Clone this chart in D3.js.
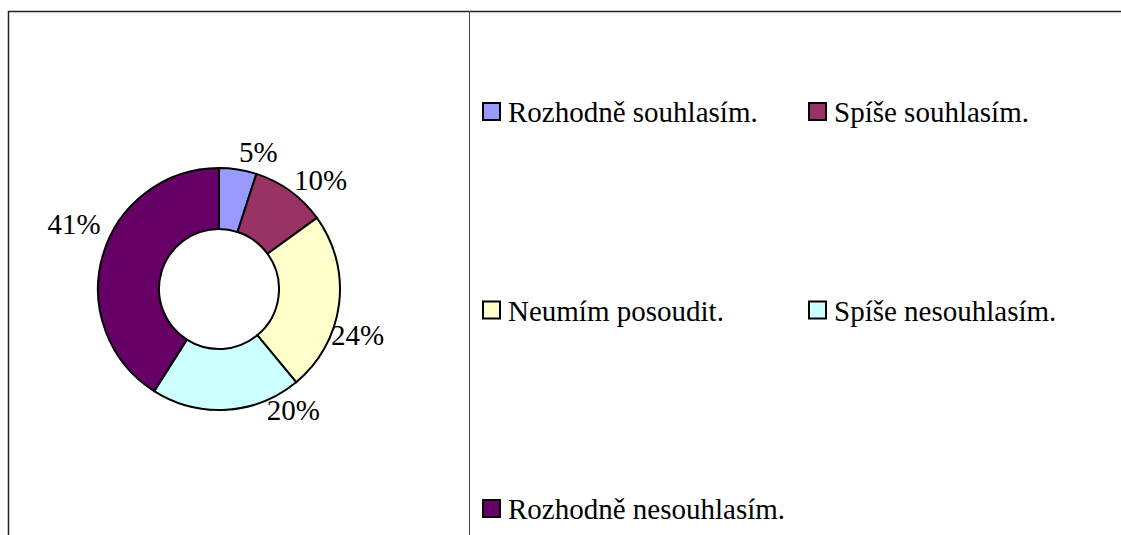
<!DOCTYPE html>
<html>
<head>
<meta charset="utf-8">
<script src="https://cdn.jsdelivr.net/npm/d3@7"></script>
<style>
  body { margin: 0; background: #fff; }
  svg { display: block; }
</style>
</head>
<body>
<svg id="chart"></svg>
<script>
// data
const categories = ["Rozhodně souhlasím.", "Spíše souhlasím.", "Neumím posoudit.", "Spíše nesouhlasím.", "Rozhodně nesouhlasím."];
const values = [5, 10, 24, 20, 41];
const labels = ["5%", "10%", "24%", "20%", "41%"];
const colors = ["#9999FF", "#993366", "#FFFFCC", "#CCFFFF", "#660066"];

const width = 1121, height = 535;
const font = "'Liberation Serif'";

const svg = d3.select('#chart')
    .attr('width', width)
    .attr('height', height);

// frame lines
svg.append('line')
    .attr('x1', 8).attr('x2', width).attr('y1', 11.5).attr('y2', 11.5)
    .attr('stroke', '#222').attr('stroke-width', 1.5);
svg.append('line')
    .attr('x1', 8.5).attr('x2', 8.5).attr('y1', 11).attr('y2', height)
    .attr('stroke', '#222').attr('stroke-width', 1.5);
svg.append('line')
    .attr('x1', 469.5).attr('x2', 469.5).attr('y1', 11).attr('y2', height)
    .attr('stroke', '#444').attr('stroke-width', 1);

// donut
const cx = 219, cy = 289, outerR = 121, innerR = 60;

const pie = d3.pie().sort(null).value(d => d);
const arcs = pie(values);

const arc = d3.arc().innerRadius(innerR).outerRadius(outerR);

const donut = svg.append('g')
    .attr('transform', `translate(${cx},${cy})`);

donut.selectAll('path')
    .data(arcs)
    .join('path')
    .attr('d', arc)
    .attr('fill', (d, i) => colors[i])
    .attr('stroke', '#000')
    .attr('stroke-width', 2);

// label placement tweaks (angle in degrees, extra radius) to follow the original layout
const labelNudge = [[7, 22], [7, 28], [11, 25], [-28, 21], [8, 38]];

donut.selectAll('text')
    .data(arcs)
    .join('text')
    .attr('text-anchor', 'middle')
    .attr('font-family', font)
    .attr('font-size', 29)
    .attr('x', (d, i) => {
        let a = (d.startAngle + d.endAngle) / 2 + labelNudge[i][0] * Math.PI / 180;
        return Math.sin(a) * (outerR + labelNudge[i][1]);
    })
    .attr('y', (d, i) => {
        let a = (d.startAngle + d.endAngle) / 2 + labelNudge[i][0] * Math.PI / 180;
        return -Math.cos(a) * (outerR + labelNudge[i][1]) + 10;
    })
    .text((d, i) => labels[i]);

// legend
const colX = d3.scalePoint().domain([0, 1]).range([482, 808]);
const rowY = d3.scaleLinear().domain([0, 2]).range([122, 519]);

const legend = svg.append('g');

const item = legend.selectAll('g')
    .data(categories)
    .join('g')
    .attr('transform', (d, i) => `translate(${colX(i % 2)},${rowY(Math.floor(i / 2))})`);

item.append('rect')
    .attr('x', 1).attr('y', -19)
    .attr('width', 17).attr('height', 17)
    .attr('fill', (d, i) => colors[i])
    .attr('stroke', '#000')
    .attr('stroke-width', 2);

item.append('text')
    .attr('x', 26)
    .attr('y', 0)
    .attr('font-family', font)
    .attr('font-size', 29)
    .text(d => d);
</script>
</body>
</html>
